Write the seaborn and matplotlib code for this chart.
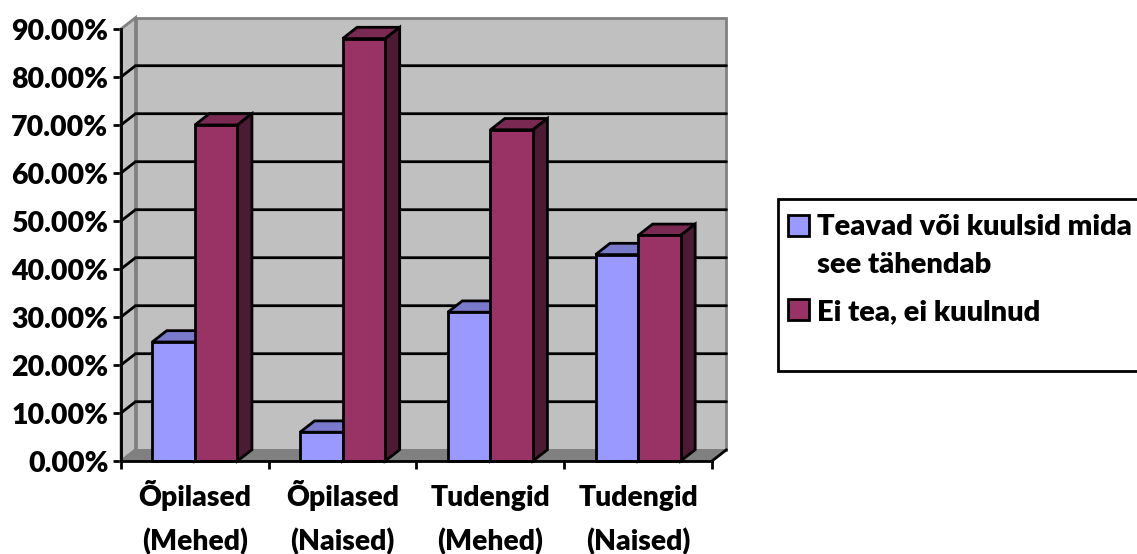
import matplotlib
matplotlib.use("Agg")
import matplotlib.pyplot as plt
import pandas as pd
import seaborn as sns
from matplotlib.patches import Polygon, Rectangle

categories = ["Õpilased\n(Mehed)", "Õpilased\n(Naised)", "Tudengid\n(Mehed)", "Tudengid\n(Naised)"]
series_names = ["Teavad või kuulsid mida\nsee tähendab", "Ei tea, ei kuulnud"]
teavad = [0.248, 0.06, 0.31, 0.43]
ei_tea = [0.70, 0.88, 0.69, 0.47]
y_ticks = [i / 10 for i in range(10)]
colors = ["#9999FF", "#993366"]
top_colors = ["#7A7ACC", "#7A2952"]
side_colors = ["#5C5C99", "#4D1A33"]

sns.set_theme(style="white")
plt.rcParams["font.family"] = ["Lato", "DejaVu Sans"]
plt.rcParams["font.weight"] = "heavy"

W, H = 1137, 554
fig = plt.figure(figsize=(W / 100, H / 100), dpi=100)
ax = fig.add_axes([121 / W, (H - 461) / H, 591 / W, 432 / H])

df = pd.DataFrame({
    "group": categories * 2,
    "series": [series_names[0]] * 4 + [series_names[1]] * 4,
    "value": teavad + ei_tea,
})
sns.barplot(data=df, x="group", y="value", hue="series", hue_order=series_names,
            palette=colors, saturation=1, width=0.576, gap=0, edgecolor="black",
            linewidth=2, ax=ax, legend=False)
ax.set_xlim(-0.5, 3.5)
ax.set_ylim(0, 0.9)
ax.set_xlabel("")
ax.set_ylabel("")

# 3-D depth offset in data units
DX = 14.5 / 147.75
DY = 11.3 / 480
x0, x1 = -0.5, 3.5
ytop = y_ticks[-1]
GREY = "#808080"
WALL = "#C0C0C0"

ax.add_patch(Polygon([(x0 + DX, DY), (x1 + DX, DY), (x1 + DX, ytop + DY), (x0 + DX, ytop + DY)],
                     closed=True, fc=WALL, ec=GREY, lw=2, zorder=0.5, clip_on=False))
ax.add_patch(Polygon([(x0, 0), (x0 + DX, DY), (x0 + DX, ytop + DY), (x0, ytop)],
                     closed=True, fc=WALL, ec=GREY, lw=2, zorder=0.6, clip_on=False))
ax.add_patch(Polygon([(x0, 0), (x1, 0), (x1 + DX, DY), (x0 + DX, DY)],
                     closed=True, fc=GREY, ec=GREY, lw=1, zorder=0.7, clip_on=False))
ax.plot([x1, x1 + DX], [0, DY], color="black", lw=2, zorder=0.8, clip_on=False)

for t in y_ticks[1:-1]:
    ax.plot([x0, x0 + DX, x1 + DX], [t, t + DY, t + DY], color="black", lw=2,
            zorder=0.9, clip_on=False, solid_joinstyle="miter")

# Depth faces of every bar, derived from the bars seaborn drew
bars = list(ax.patches)
bars = [b for b in bars if isinstance(b, Rectangle) and b.get_width() < 1]
for b in bars:
    s = 0 if b.get_facecolor()[0] > 0.5 and b.get_facecolor()[2] > 0.9 else 1
    base = 3 + 2 * s
    l, r, h = b.get_x(), b.get_x() + b.get_width(), b.get_height()
    b.set_zorder(base + 1)
    b.set_clip_on(False)
    ax.add_patch(Polygon([(l, h), (r, h), (r + DX, h + DY), (l + DX, h + DY)], closed=True,
                         fc=top_colors[s], ec="black", lw=2, zorder=base, clip_on=False,
                         joinstyle="miter"))
    ax.add_patch(Polygon([(r, 0), (r + DX, DY), (r + DX, h + DY), (r, h)], closed=True,
                         fc=side_colors[s], ec="black", lw=2, zorder=base, clip_on=False,
                         joinstyle="miter"))

for name in ["top", "right"]:
    ax.spines[name].set_visible(False)
for name in ["left", "bottom"]:
    ax.spines[name].set_color("black")
    ax.spines[name].set_linewidth(2)
    ax.spines[name].set_zorder(10)

ax.set_yticks(y_ticks)
ax.set_yticklabels([f"{t * 100:.2f}%" for t in y_ticks])
ax.tick_params(axis="y", left=True, length=5.5, width=2, color="black", pad=3.5,
               labelsize=20.5, labelcolor="black")
ax.set_xticks(range(4))
ax.set_xticklabels(categories, linespacing=1.72, va="baseline")
ax.set_xticks([x0 + i for i in range(5)], minor=True)
ax.tick_params(axis="x", which="major", length=0, pad=64, labelsize=20.3, labelcolor="black")
ax.tick_params(axis="x", which="minor", bottom=True, length=5.5, width=2, color="black")

# Legend
fig.add_artist(Rectangle((778 / W, (H - 371) / H), 380 / W, 172 / H, transform=fig.transFigure,
                         fc="white", ec="black", lw=2))
handles = [Rectangle((0, 0), 1, 1, fc=c, ec="black", lw=2) for c in colors]
leg = fig.legend(handles, series_names, loc="upper left",
                 bbox_to_anchor=(788 / W, (H - 214.5) / H), frameon=False,
                 fontsize=21, handlelength=0.72, handleheight=0.72, handletextpad=0.27,
                 labelspacing=0.72, borderpad=0, borderaxespad=0)
for txt in leg.get_texts():
    txt.set_linespacing(1.55)
    txt.set_color("black")
leg.get_patches()[0].set_y(15)

fig.savefig("out.png", dpi=100)
